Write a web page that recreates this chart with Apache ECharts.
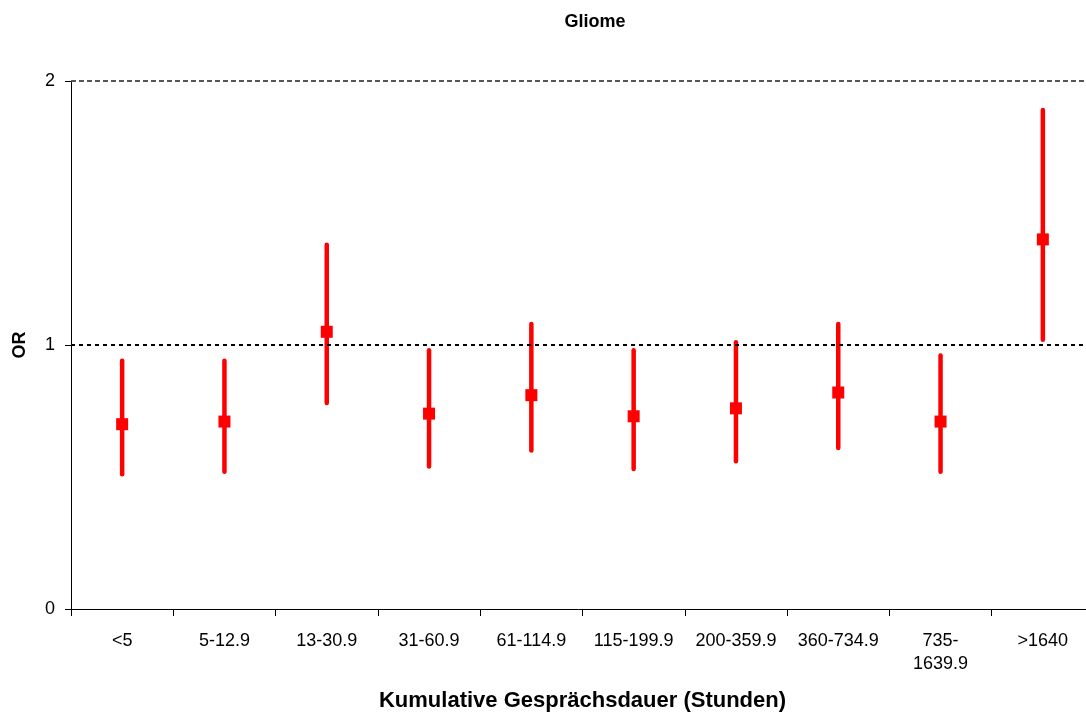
<!DOCTYPE html>
<html><head><meta charset="utf-8">
<script src="https://cdn.jsdelivr.net/npm/echarts@6/dist/echarts.min.js"></script>
<style>html,body{margin:0;padding:0;background:#fff}#c{width:1086px;height:713px}</style>
</head><body><div id="c"></div>
<script>
const categories = ['<5','5-12.9','13-30.9','31-60.9','61-114.9','115-199.9','200-359.9','360-734.9','735-1639.9','>1640'];
const orValues = [0.70, 0.71, 1.05, 0.74, 0.81, 0.73, 0.76, 0.82, 0.71, 1.40];
const ciLower = [0.51, 0.52, 0.78, 0.54, 0.60, 0.53, 0.56, 0.61, 0.52, 1.02];
const ciUpper = [0.94, 0.94, 1.38, 0.98, 1.08, 0.98, 1.01, 1.08, 0.96, 1.89];
const yTicks = [0, 1, 2];

const chart = echarts.init(document.getElementById('c'));
const font = 'Liberation Sans, Arial, sans-serif';
chart.setOption({
  animation: false,
  backgroundColor: '#fff',
  title: { text: 'Gliome', left: 590, top: 8, textAlign: 'center',
    textStyle: { fontFamily: font, fontSize: 18, fontWeight: 'bold', color: '#000' } },
  grid: { left: 71, top: 81, width: 1023, height: 528, containLabel: false, outerBoundsMode: 'none' },
  xAxis: {
    type: 'category', data: categories, boundaryGap: true,
    name: 'Kumulative Gesprächsdauer (Stunden)', nameLocation: 'middle', nameGap: 81,
    nameTextStyle: { fontFamily: font, fontSize: 22, fontWeight: 'bold', color: '#000' },
    axisLine: { lineStyle: { color: '#000', width: 1 } },
    axisTick: { show: true, alignWithLabel: false, length: 7, lineStyle: { color: '#000' } },
    axisLabel: { fontFamily: font, fontSize: 18, color: '#000', margin: 21, interval: 0, lineHeight: 23,
      formatter: v => v.length > 9 ? v.replace('-', '-\n') : v },
    splitLine: { show: false }
  },
  yAxis: {
    type: 'value', min: yTicks[0], max: yTicks[yTicks.length - 1], interval: 1,
    name: 'OR', nameLocation: 'middle', nameGap: 42, nameRotate: 90,
    nameTextStyle: { fontFamily: font, fontSize: 18, fontWeight: 'bold', color: '#000' },
    axisLine: { show: true, lineStyle: { color: '#000', width: 1 } },
    axisTick: { show: true, length: 6, lineStyle: { color: '#000' } },
    axisLabel: { fontFamily: font, fontSize: 18, color: '#000', margin: 16 },
    splitLine: { show: false }
  },
  series: [
    {
      type: 'custom',
      data: categories.map((c, i) => [i, ciLower[i], ciUpper[i]]),
      renderItem: function (params, api) {
        const lo = api.coord([api.value(0), api.value(1)]);
        const hi = api.coord([api.value(0), api.value(2)]);
        return { type: 'line', shape: { x1: lo[0], y1: lo[1], x2: hi[0], y2: hi[1] },
          style: { stroke: '#ff0000', lineWidth: 4.5, lineCap: 'round' } };
      },
      encode: { x: 0, y: [1, 2] },
      z: 3,
      markLine: {
        silent: true, symbol: 'none', label: { show: false },
        data: [
          { yAxis: 1, lineStyle: { color: '#000', type: [4, 4], width: 2 } },
          { yAxis: 2, lineStyle: { color: '#555', type: [5, 3], width: 2 } }
        ]
      }
    },
    {
      type: 'scatter', data: orValues.map((v, i) => [i, v]),
      symbol: 'rect', symbolSize: 12,
      itemStyle: { color: '#ff0000', opacity: 1 }, z: 4
    }
  ]
});
</script></body></html>
